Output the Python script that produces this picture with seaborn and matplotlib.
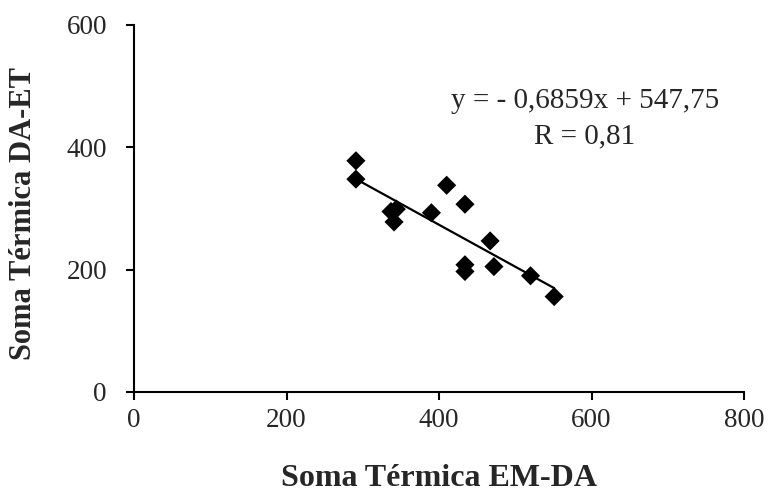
import numpy as np
import pandas as pd
import matplotlib
matplotlib.use('Agg')
import matplotlib.pyplot as plt
import seaborn as sns

# data
em_da = [291, 291, 337, 344, 341, 390, 410, 434, 467, 434, 434, 472, 520, 551]
da_et = [378, 348, 295, 299, 278, 293, 338, 307, 247, 208, 197, 205, 190, 156]
slope = -0.6859
intercept = 547.75
r_value = 0.81

x_ticks = [0, 200, 400, 600, 800]
y_ticks = [0, 200, 400, 600]

df = pd.DataFrame({'em_da': em_da, 'da_et': da_et})

sns.set_style('ticks')
plt.rcParams['font.family'] = ['Liberation Serif', 'DejaVu Serif']

fig = plt.figure(figsize=(7.68, 4.96), dpi=100)
ax = fig.add_axes([0.1745, 0.2097, 0.7943, 0.7399])

# linha de tendencia a partir da equacao
xs = np.array([df['em_da'].min(), df['em_da'].max()])
trend = pd.DataFrame({'x': xs, 'y': slope * xs + intercept})
sns.lineplot(data=trend, x='x', y='y', color='black', linewidth=1.6, ax=ax)

sns.scatterplot(data=df, x='em_da', y='da_et', marker='D', s=95,
                color='black', edgecolor='none', ax=ax, zorder=3)

ax.set_xlim(0, 800)
ax.set_ylim(0, 600)
ax.set_xticks(x_ticks)
ax.set_yticks(y_ticks)
ax.tick_params(axis='both', labelsize=19.5, length=5.5, width=1.5, direction='out', color='black')
ax.tick_params(axis='x', pad=6)
ax.tick_params(axis='y', pad=14)
for side in ['top', 'right']:
    ax.spines[side].set_visible(False)
for side in ['left', 'bottom']:
    ax.spines[side].set_linewidth(1.5)
    ax.spines[side].set_color('black')

ax.set_xlabel('Soma Térmica EM-DA', fontsize=23, fontweight='bold')
ax.set_ylabel('Soma Térmica DA-ET', fontsize=22, fontweight='bold')
ax.xaxis.set_label_coords(0.5, -0.195)
ax.yaxis.set_label_coords(-0.158, 0.485)

eq = 'y = - ' + f'{abs(slope):.4f}'.replace('.', ',') + 'x + ' + f'{intercept:.2f}'.replace('.', ',')
ax.text(591, 476, eq, fontsize=21, ha='center', va='center')
ax.text(591, 418, 'R = ' + f'{r_value:.2f}'.replace('.', ','), fontsize=21, ha='center', va='center')

fig.savefig('out.png', dpi=100)
